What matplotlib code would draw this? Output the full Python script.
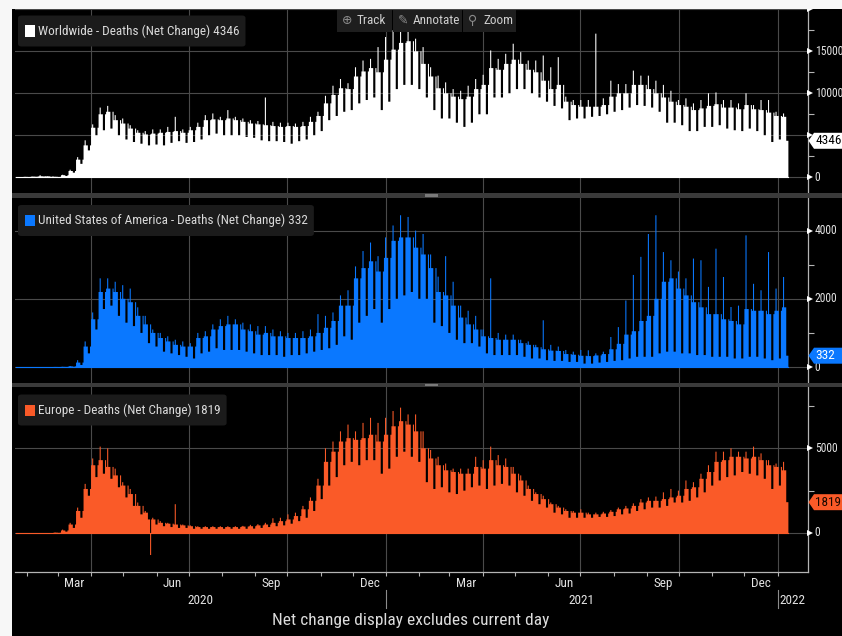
import datetime as dt
import numpy as np
import matplotlib
matplotlib.use("Agg")
import matplotlib.pyplot as plt
from matplotlib import font_manager as fm
from matplotlib import transforms
from matplotlib.patches import Rectangle, Polygon, FancyBboxPatch

W, H = 842, 636

# ---------------- data (weekly readings, weeks start on Wednesday) ----------------
START = dt.date(2020, 1, 22)
END = dt.date(2022, 1, 10)

# Worldwide: weekly peak day, typical weekday, weekend low
world_pk = [30, 60, 90, 250, 130, 70, 300, 900, 2400, 4400,
            6300, 8300, 8500, 7400, 7000, 6200, 5600, 5500, 5700, 5700,
            6000, 7200, 5700, 6000, 6500, 7400, 7600, 7200, 8000, 7200,
            7000, 6800, 6700, 9500, 6600, 6500, 6500, 6400, 6600, 7200,
            7800, 9700, 10900, 11700, 11200, 13100, 13900, 14100, 15500, 16700,
            17500, 17900, 17600, 16500, 15500, 13100, 12100, 11300, 10500, 10300,
            10900, 11700, 12200, 15100, 14100, 14700, 15900, 14900, 13900, 13900,
            14500, 13100, 14300, 9600, 9200, 9200, 9200, 17100, 9400, 11500,
            11100, 11100, 12700, 12100, 12100, 11500, 11000, 10300, 9200, 9400,
            8800, 9200, 10000, 10100, 9200, 9200, 8800, 10000, 8600, 9200,
            9200, 7800, 7600]
world_hi = [25, 50, 80, 120, 110, 60, 250, 750, 2100, 3800,
            5900, 7500, 7800, 6800, 6400, 5800, 5300, 5100, 5200, 5300,
            5400, 5500, 5300, 5600, 6000, 6800, 6900, 6800, 7000, 6800,
            6600, 6400, 6300, 6200, 6100, 6000, 6100, 6000, 6100, 6600,
            7300, 8800, 9800, 10600, 10500, 12000, 12600, 13000, 12500, 14000,
            15200, 16000, 16200, 15000, 13500, 12000, 10600, 10000, 9600, 9300,
            9600, 10500, 11000, 13000, 12800, 13500, 14000, 13500, 12800, 12500,
            11500, 10500, 11000, 9000, 8600, 8400, 8400, 8400, 8600, 9600,
            10000, 10000, 11000, 11000, 10500, 10000, 9500, 9000, 8600, 8400,
            8000, 8200, 8500, 8700, 8300, 8300, 8100, 8600, 8100, 8000,
            7700, 7300, 7200]
world_lo = [17, 40, 65, 100, 60, 40, 150, 550, 1600, 3200,
            5000, 5600, 5800, 5000, 4500, 4200, 4000, 3800, 3900, 3800,
            4100, 4300, 4100, 4200, 4500, 5000, 5200, 5000, 5000, 5000,
            4800, 4700, 4400, 4300, 4300, 4200, 4000, 4300, 4500, 5000,
            5500, 6800, 7300, 7800, 8000, 8800, 9200, 9500, 8000, 9000,
            10500, 11000, 11000, 10500, 9500, 8000, 7000, 7000, 6500, 6000,
            6500, 7500, 7500, 9500, 9500, 10000, 10500, 10500, 10000, 9500,
            9000, 8500, 8200, 6800, 7000, 7000, 7200, 7300, 7500, 7800,
            8000, 8300, 8600, 8500, 8300, 7800, 6500, 6500, 6200, 5500,
            5500, 6000, 6000, 6200, 5800, 5600, 5500, 5800, 5500, 5000,
            4200, 4500, 4346]

# United States of America
us_pk = [0, 0, 0, 0, 0, 3, 8, 30, 200, 750,
         1600, 2600, 2600, 2500, 2400, 2300, 1750, 1500, 1100, 1000,
         900, 800, 750, 700, 1000, 1050, 1250, 1400, 1500, 1400,
         1300, 1250, 1200, 1200, 1100, 1050, 1000, 1000, 1050, 1100,
         1550, 1500, 1600, 2100, 2250, 2950, 3400, 3650, 3250, 3800,
         4150, 4450, 4400, 4000, 3900, 3300, 2650, 3250, 2500, 1800,
         1650, 1500, 1100, 2600, 1000, 950, 950, 800, 750, 650,
         1370, 650, 600, 500, 450, 500, 490, 400, 450, 880,
         1170, 1950, 2700, 3230, 3900, 4450, 3370, 3130, 2800, 2600,
         3180, 3130, 2350, 3470, 2640, 1760, 1800, 3860, 2440, 2250,
         3370, 2300, 2640]
us_hi = [0, 0, 0, 0, 0, 2, 5, 20, 130, 600,
         1400, 2200, 2300, 2200, 2000, 1900, 1500, 1250, 1000, 850,
         750, 650, 600, 600, 850, 900, 1100, 1200, 1250, 1250,
         1100, 1050, 950, 1000, 900, 900, 850, 850, 850, 900,
         1000, 1150, 1350, 1800, 1800, 2600, 2900, 3100, 2800, 3200,
         3700, 3800, 3800, 3500, 3300, 2900, 2200, 2100, 1800, 1450,
         1250, 1100, 900, 850, 800, 800, 800, 700, 650, 580,
         520, 480, 470, 380, 360, 330, 320, 340, 380, 520,
         680, 950, 1050, 1350, 1500, 2000, 2500, 2600, 2300, 2100,
         1900, 1750, 1550, 1550, 1400, 1350, 1250, 1700, 1650, 1650,
         1550, 1650, 1750]
us_lo = [0, 0, 0, 0, 0, 1, 3, 10, 60, 400,
         1100, 1700, 1800, 1500, 1300, 1200, 1000, 700, 600, 450,
         400, 350, 300, 250, 400, 450, 550, 500, 500, 500,
         450, 400, 350, 350, 350, 300, 350, 350, 400, 450,
         500, 550, 650, 900, 800, 1300, 1500, 1700, 1300, 1700,
         2000, 2100, 2200, 2000, 2000, 1300, 1200, 1000, 800, 700,
         700, 600, 400, 350, 350, 350, 350, 300, 250, 250,
         200, 180, 180, 150, 150, 100, 100, 130, 150, 180,
         200, 250, 300, 300, 300, 400, 450, 450, 400, 400,
         350, 350, 300, 300, 300, 250, 250, 300, 300, 250,
         200, 250, 332]

# Europe
eu_pk = [0, 0, 0, 0, 0, 30, 200, 600, 1500, 2900,
         4400, 5100, 5000, 3800, 3000, 2600, 1800, 1300, 900, 700,
         600, 1700, 500, 450, 400, 400, 400, 400, 400, 400,
         420, 480, 520, 600, 870, 900, 1100, 1200, 1600, 2100,
         3200, 5000, 5400, 6000, 6400, 6000, 6500, 6800, 6500, 6800,
         7200, 7400, 7000, 7000, 6000, 4900, 4500, 4100, 3800, 3800,
         3800, 4500, 4300, 5100, 4600, 4400, 3900, 3400, 2800, 2400,
         2200, 1800, 1600, 1400, 1300, 1400, 1200, 1200, 1250, 1350,
         1500, 1600, 1750, 2000, 2100, 2150, 2400, 2600, 2500, 3100,
         3000, 3500, 4000, 4800, 4800, 5000, 4800, 4800, 5100, 4700,
         4300, 4100, 4200]
eu_hi = [0, 0, 0, 0, 0, 20, 150, 500, 1300, 2600,
         4000, 4300, 3900, 3400, 2800, 2300, 1600, 1200, 800, 600,
         550, 500, 450, 400, 350, 350, 350, 350, 350, 350,
         380, 400, 450, 500, 600, 700, 800, 1000, 1400, 1900,
         2800, 4200, 4800, 5400, 5600, 5500, 5600, 5800, 5400, 5800,
         6300, 6600, 6400, 6000, 5000, 4400, 4000, 3700, 3600, 3500,
         3500, 3900, 3800, 4300, 4000, 3900, 3500, 3100, 2600, 2300,
         2000, 1700, 1500, 1300, 1200, 1200, 1100, 1100, 1150, 1250,
         1400, 1450, 1600, 1800, 1900, 1900, 2000, 2100, 2200, 2600,
         2700, 3200, 3600, 4200, 4300, 4500, 4500, 4400, 4500, 4300,
         4000, 3900, 3700]
eu_lo = [0, 0, 0, 0, 0, 10, 80, 300, 900, 2200,
         3300, 3500, 3200, 2700, 2100, 1600, 1100, 800, 500, 400,
         350, 300, 300, 250, 250, 250, 250, 250, 250, 250,
         250, 260, 300, 350, 400, 450, 550, 700, 900, 1300,
         2000, 2800, 3300, 4000, 4200, 4000, 4300, 4300, 3500, 3800,
         4500, 4800, 4500, 4200, 3000, 2600, 2700, 2400, 2300, 2500,
         2700, 2800, 2600, 2800, 2900, 2800, 2400, 2200, 1900, 1700,
         1500, 1200, 1100, 900, 900, 900, 900, 950, 950, 1000,
         1100, 1150, 1300, 1400, 1500, 1500, 1600, 1800, 1800, 1900,
         2100, 2400, 2800, 3100, 3300, 3400, 3600, 3500, 3400, 3200,
         2600, 2800, 1819]
# one-day revision in Europe
eu_adj_dates = [dt.date(2020, 5, 26)]
eu_adj_vals = [-1300]

titles = ["Worldwide - Deaths (Net Change)",
          "United States of America - Deaths (Net Change)",
          "Europe - Deaths (Net Change)"]
colors = ["#ffffff", "#0a78ff", "#fa5a28"]
tag_text_colors = ["#000000", "#ffffff", "#1a0800"]

ylims = [(-1870, 20095), (-460, 4947), (-2320, 8601)]
major_ticks = [[0, 5000, 10000, 15000, 20000], [0, 2000, 4000], [0, 5000]]
major_labels = [["0", "", "10000", "15000", ""], ["0", "2000", "4000"], ["0", "5000"]]
minor_ticks = [[2500, 7500, 12500, 17500], [1000, 3000], [2500, 7500]]

# ---------------- fonts ----------------
def pick_font():
    entries = fm.fontManager.ttflist
    names = {f.name for f in entries}
    for n in ["Roboto Condensed", "Liberation Sans Narrow", "Open Sans Condensed",
              "DejaVu Sans Condensed", "Noto Sans Condensed"]:
        if n in names:
            return n, "normal"
    for f in entries:
        if f.name in ("DejaVu Sans", "Noto Sans", "Roboto", "Open Sans") and \
                str(f.stretch) in ("condensed", "semi-condensed"):
            return f.name, "condensed"
    return "DejaVu Sans", "normal"

FONT, STRETCH = pick_font()
plt.rcParams["font.family"] = [FONT, "DejaVu Sans"]
plt.rcParams["font.stretch"] = STRETCH

def daily(pk, hi, lo):
    out = []
    for p, h, l in zip(pk, hi, lo):
        out += [h, p, h, h, l, l, h]   # Wed..Tue
    n = (END - START).days + 1
    return np.array(out[:n], dtype=float)

D0 = dt.date(2020, 1, 1)
def dnum(d):
    return (d - D0).days

world = daily(world_pk, world_hi, world_lo)
us = daily(us_pk, us_hi, us_lo)
eu = daily(eu_pk, eu_hi, eu_lo)
for d, v in zip(eu_adj_dates, eu_adj_vals):
    eu[(d - START).days] = v
series = [world, us, eu]
edges = dnum(START) + np.arange(len(world) + 1)

# ---------------- figure ----------------
fig = plt.figure(figsize=(W / 100, H / 100), dpi=100, facecolor="black")

def fx(x):
    return x / W

def fy(y):
    return 1 - y / H

rects = [(8.5, 193.0), (198.3, 382.7), (387.3, 572.3)]
XL, XR = 15.0, 807.7
XMIN, XMAX = 20.1, 759.0
GRID = "#4a4a4a"
AXC = "#b4b4b4"
TXT = "#e2e2e2"

months = []
y, m = 2020, 2
while (y, m) <= (2022, 1):
    months.append(dt.date(y, m, 1))
    m += 1
    if m == 13:
        y, m = y + 1, 1
month_pos = [dnum(d) for d in months]
quarter_pos = [dnum(d) for d in months if d.month in (1, 4, 7, 10)]

axes = []
for i, (top, bot) in enumerate(rects):
    ax = fig.add_axes([fx(XL), fy(bot), (XR - XL) / W, (bot - top) / H])
    ax.set_facecolor("black")
    ax.set_xlim(XMIN, XMAX)
    ax.set_ylim(*ylims[i])
    for s in ["left", "top", "bottom"]:
        ax.spines[s].set_visible(False)
    ax.spines["right"].set_color(AXC)
    ax.spines["right"].set_linewidth(0.9)
    for q in quarter_pos:
        ax.axvline(q, color=GRID, lw=0.8, zorder=0)
    for v in major_ticks[i]:
        ax.axhline(v, color=GRID, lw=0.8, zorder=0)
    c = colors[i]
    ax.plot([edges[0], edges[-1]], [0, 0], color=c, lw=0.8, zorder=1)
    ax.stairs(series[i], edges, fill=True, color=c, lw=0, zorder=2)
    # y axis on the right
    ax.yaxis.tick_right()
    ax.set_yticks([])
    ax.set_yticks(minor_ticks[i], minor=True)
    ax.tick_params(axis="y", which="minor", length=4, width=0.8, color=AXC,
                   labelright=False, right=True)
    ax.set_xticks([])
    tx = 1 + 2.5 / (XR - XL)
    ax.plot([tx] * len(major_ticks[i]), major_ticks[i], ls="none", marker=">",
            ms=4.5, mew=0, color="white", transform=ax.get_yaxis_transform(),
            clip_on=False, zorder=5)
    for v, lab in zip(major_ticks[i], major_labels[i]):
        if lab:
            ax.text(1 + 7.0 / (XR - XL), v, lab, transform=ax.get_yaxis_transform(),
                    ha="left", va="center", color=TXT, fontsize=8.4, clip_on=False)
    axes.append(ax)

axb = axes[2]
axb.spines["bottom"].set_visible(True)
axb.spines["bottom"].set_color(AXC)
axb.spines["bottom"].set_linewidth(0.9)
axb.set_xticks(month_pos)
axb.tick_params(axis="x", which="major", length=3, width=0.8, color=AXC,
                labelbottom=False, direction="out")

# month & year labels
blend = transforms.blended_transform_factory(axb.transData, fig.transFigure)
for d in months:
    if d.month in (3, 6, 9, 12):
        nd = (dt.date(d.year + (d.month == 12), d.month % 12 + 1, 1) - d).days
        axb.text(dnum(d) + nd / 2, fy(583.5), d.strftime("%b"), transform=blend,
                 ha="center", va="center", color=TXT, fontsize=9.5, clip_on=False)
year_label_pos = [(XMIN + dnum(dt.date(2021, 1, 1))) / 2,
                  (dnum(dt.date(2021, 1, 1)) + dnum(dt.date(2022, 1, 1))) / 2,
                  (dnum(dt.date(2022, 1, 1)) + XMAX) / 2]
for p, lab in zip(year_label_pos, ["2020", "2021", "2022"]):
    axb.text(p, fy(600.5), lab, transform=blend, ha="center", va="center",
             color=TXT, fontsize=9.5, clip_on=False)
for d in [dt.date(2021, 1, 1), dt.date(2022, 1, 1)]:
    axb.plot([dnum(d)] * 2, [fy(590), fy(608)], transform=blend, color="#8c8c8c",
             lw=0.8, clip_on=False)

fig.text(fx(410.5), fy(620.5), "Net change display excludes current day",
         ha="center", va="center", color="#dcdcdc", fontsize=12.5)

# separators between panels
for (y0, y1) in [(193.0, 198.3), (382.7, 387.3)]:
    fig.patches.append(Rectangle((fx(12), fy(y1)), 1 - fx(12), (y1 - y0) / H,
                                 transform=fig.transFigure, fc="#3a3a3a", ec="none",
                                 zorder=3))
    fig.patches.append(Rectangle((fx(425), fy((y0 + y1) / 2 + 1.3)), 13 / W, 2.6 / H,
                                 transform=fig.transFigure, fc="#7a7a7a", ec="none",
                                 zorder=4))
fig.patches.append(Rectangle((fx(12), fy(9.3)), 1 - fx(12), 1.0 / H,
                             transform=fig.transFigure, fc="#3a3a3a", ec="none", zorder=3))

# legends
fig.canvas.draw()
renderer = fig.canvas.get_renderer()
leg_y = [31.0, 220.5, 410.0]
for i in range(3):
    yc = leg_y[i]
    label = f"{titles[i]} {series[i][-1]:.0f}"
    t = fig.text(fx(38), fy(yc), label, ha="left", va="center", color="#dadada",
                 fontsize=9.5, zorder=6)
    bb = t.get_window_extent(renderer)
    x_right = bb.x1 + 6
    fig.patches.append(FancyBboxPatch((fx(18), fy(yc + 15.5)), fx(x_right - 18), 31 / H,
                                      boxstyle="round,pad=0,rounding_size=0.004",
                                      transform=fig.transFigure, fc="#1b1b1b", ec="none",
                                      zorder=5))
    fig.patches.append(Rectangle((fx(25), fy(yc + 5.5)), 10 / W, 11 / H,
                                 transform=fig.transFigure, fc=colors[i], ec="none",
                                 zorder=6))

# last value tags on the right axis
for i, ax in enumerate(axes):
    v = series[i][-1]
    ypix = H - ax.transData.transform((XMIN, v))[1]
    pts = [(808.5, ypix), (814, ypix - 8), (843, ypix - 8), (843, ypix + 8),
           (814, ypix + 8)]
    fig.patches.append(Polygon([(fx(a), fy(b)) for a, b in pts], closed=True,
                               transform=fig.transFigure, fc=colors[i], ec="none",
                               zorder=7))
    fig.text(fx(815.5), fy(ypix), f"{v:.0f}", ha="left", va="center",
             color=tag_text_colors[i], fontsize=9.5, zorder=8)

# toolbar
buttons = [(337, 392, "\u2295", "Track"), (393, 462, "\u270e", "Annotate"),
           (463, 516, "\u26b2", "Zoom")]
for x0, x1, icon, lab in buttons:
    fig.patches.append(Rectangle((fx(x0), fy(31.5)), (x1 - x0) / W, 22 / H,
                                 transform=fig.transFigure, fc="#1e1e1e", ec="none",
                                 zorder=6))
    fig.text(fx(x0 + 10), fy(20.5), icon, ha="center", va="center", color="#8a8a8a",
             fontsize=9, family=["DejaVu Sans"], zorder=7)
    fig.text(fx(x0 + 20), fy(20.5), lab, ha="left", va="center", color="#cfcfcf",
             fontsize=9.5, zorder=7)

# white margins (left and top)
fig.patches.append(Rectangle((0, 0), fx(12), 1, transform=fig.transFigure,
                             fc="#f7f7f7", ec="none", zorder=10))
fig.patches.append(Rectangle((0, fy(8.5)), 1, 8.5 / H, transform=fig.transFigure,
                             fc="#f7f7f7", ec="none", zorder=10))

fig.savefig("out.png", dpi=100, facecolor="black")
